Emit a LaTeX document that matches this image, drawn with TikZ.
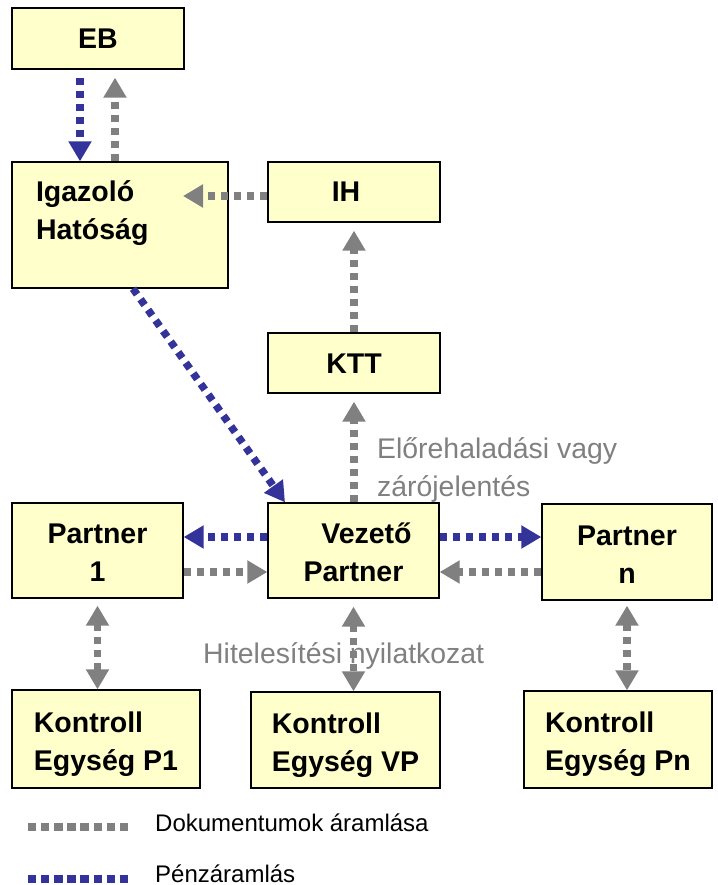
\documentclass[tikz,border=0pt]{standalone}
\usepackage{fontspec}
\setmainfont{Liberation Sans}
\usetikzlibrary{arrows.meta}
\definecolor{boxfill}{HTML}{FFFFCC}
\definecolor{docgray}{HTML}{808080}
\definecolor{moneyblue}{HTML}{333399}
\newcommand\boxfont{\bfseries\fontsize{28.5}{38}\selectfont}
\newcommand\labfont{\fontsize{28.4}{38}\selectfont}
\newcommand\legfont{\fontsize{24}{30}\selectfont}
\newcommand\tlc[2]{\begin{tabular}[t]{@{}c@{}}#1\\#2\end{tabular}}
\newcommand\tll[2]{\begin{tabular}[t]{@{}l@{}}#1\\#2\end{tabular}}
\begin{document}
\begin{tikzpicture}[x=1pt,y=-1pt,
  box/.style={draw=black,line width=1.3pt,fill=boxfill,inner sep=0pt,font=\boxfont},
  oneline/.style={text height=20pt,text depth=0pt},
  twoline/.style={text height=30pt,text depth=44pt},
  flow/.style={line width=7.5pt,dash pattern=on 7pt off 6pt,-{Triangle[length=20pt,width=22pt]}},
  doc/.style={flow,draw=docgray},
  money/.style={flow,draw=moneyblue},
  both/.style={{Triangle[length=20pt,width=22pt]}-{Triangle[length=20pt,width=22pt]}},
  lab/.style={text=docgray,font=\labfont,inner sep=0pt,anchor=base west},
  leg/.style={font=\legfont,inner sep=0pt,anchor=base west},
  legline/.style={line width=8pt,dash pattern=on 8.3pt off 4.8pt}]
\useasboundingbox (0,0) rectangle (717,885);

% boxes
\node[box,oneline,minimum width=172pt,minimum height=61pt] (EB) at (98,38.5) {EB};
\node[box,minimum width=216pt,minimum height=126pt,text height=30pt,text depth=76pt] (IgH) at (120,225) {\makebox[168pt][l]{\tll{Igazoló}{Hatóság}}};
\node[box,oneline,minimum width=172pt,minimum height=60pt] (IH) at (354,192) {IH\hspace*{16pt}};
\node[box,oneline,minimum width=172pt,minimum height=60pt] (KTT) at (354,363) {KTT};
\node[box,twoline,minimum width=171pt,minimum height=95pt] (P1) at (97.5,550.5) {\tlc{Partner}{1}};
\node[box,twoline,minimum width=171pt,minimum height=95pt] (Vez) at (353.5,550.5) {\tlc{\hspace*{26pt}Vezető}{Partner}};
\node[box,twoline,minimum width=170pt,minimum height=96pt] (Pn) at (627,552) {\tlc{Partner}{n}};
\node[box,twoline,minimum width=188pt,minimum height=98pt] (KP1) at (106,739) {\tll{Kontroll}{Egység P1}};
\node[box,twoline,minimum width=189pt,minimum height=96pt] (KVP) at (345.5,740) {\tll{Kontroll}{Egység VP}};
\node[box,twoline,minimum width=188pt,minimum height=97pt] (KPn) at (618,739.5) {\tll{Kontroll}{Egység Pn}};

% labels
\node[lab] (rep) at (377,458) {\tll{Előrehaladási vagy}{zárójelentés}};
\node[lab] (cert) at (203,663) {Hitelesítési nyilatkozat};

% connectors
\coordinate (ebL) at ([xshift=-18pt]EB.south);
\coordinate (ebR) at ([xshift=17pt]EB.south);
\draw[money,shorten <=8pt] (ebL) -- (ebL |- IgH.north);
\draw[doc,shorten >=8pt] (ebR |- IgH.north) -- (ebR);
\coordinate (ihS) at ([yshift=-4pt]IH.west);
\coordinate (ihE) at (183,196);
\draw[doc] (ihS) -- (ihE);
\draw[doc,shorten >=8pt] (KTT.north) -- (IH.south);
\draw[doc,shorten >=8pt] (Vez.north -| KTT.north) -- (KTT.south);
\draw[money] ([xshift=13pt]IgH.south) -- ([xshift=-68.5pt]Vez.north);
\coordinate (vbW) at ([yshift=13.5pt]Vez.west);
\coordinate (vbE) at ([yshift=13.5pt]Vez.east);
\coordinate (vgW) at ([yshift=-21.5pt]Vez.west);
\coordinate (vgE) at ([yshift=-21.5pt]Vez.east);
\draw[money] (vbW) -- (vbW -| P1.east);
\draw[money] (vbE) -- (vbE -| Pn.west);
\draw[doc] (vgW -| P1.east) -- (vgW);
\draw[doc] (vgE -| Pn.west) -- (vgE);
\draw[doc,both,shorten <=7pt] (P1.south) -- (P1.south |- KP1.north);
\draw[doc,both,shorten <=8pt] (Vez.south) -- (Vez.south |- KVP.north);
\draw[doc,both,shorten <=5pt] (Pn.south) -- (Pn.south |- KPn.north);

% legend
\coordinate (lg1a) at (28,827);
\coordinate (lg1b) at (128,827);
\coordinate (lg2a) at (28,879);
\coordinate (lg2b) at (128,879);
\draw[legline,docgray] (lg1a) -- (lg1b);
\draw[legline,moneyblue] (lg2a) -- (lg2b);
\node[leg] (legdoc) at (155,831) {Dokumentumok áramlása};
\node[leg] (legmon) at (155,882) {Pénzáramlás};
\end{tikzpicture}
\end{document}
